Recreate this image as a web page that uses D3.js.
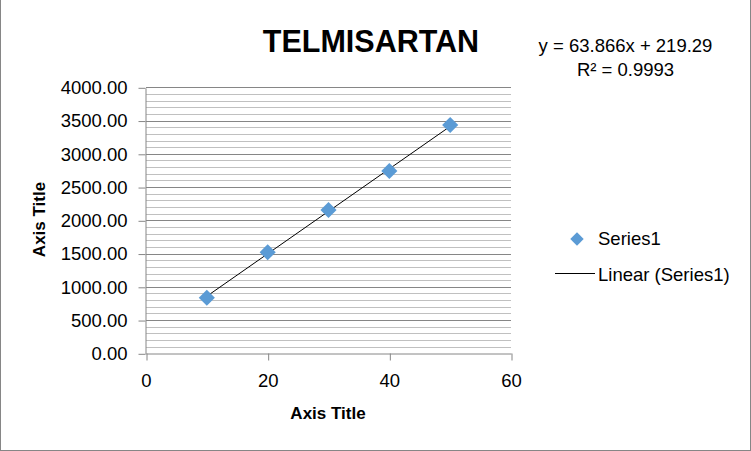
<!DOCTYPE html>
<html lang="en">
<head>
    <meta charset="UTF-8">
    <title>TELMISARTAN</title>
    <script src="https://d3js.org/d3.v7.min.js"></script>
    <style>
        body {
            margin: 0;
            background: #fff;
        }
        svg text {
            font-family: "Liberation Sans", Arial, sans-serif;
            fill: #000;
        }
    </style>
</head>
<body>
    <div id="container"></div>

    <script>
        // data
        const concentration = [10, 20, 30, 40, 50];
        const response = [836, 1519, 2155, 2741, 3433];
        const xTicks = [0, 20, 40, 60];
        const yTicks = [0, 500, 1000, 1500, 2000, 2500, 3000, 3500, 4000];
        const slope = 63.866;
        const intercept = 219.29;
        const equationLabel = 'y = 63.866x + 219.29';
        const r2Label = 'R² = 0.9993';
        const legendLabels = ['Series1', 'Linear (Series1)'];

        const width = 751, height = 451;
        const axisColor = '#868686';
        const markerColor = '#5b9bd5';

        const svg = d3.select('#container').append('svg')
            .attr('width', width)
            .attr('height', height);

        // outer chart border
        svg.append('rect')
            .attr('x', 0.5).attr('y', -0.5)
            .attr('width', 750).attr('height', 451)
            .attr('fill', '#fff')
            .attr('stroke', axisColor);

        // scales
        const x = d3.scaleLinear().domain([0, 60]).range([146, 511]);
        const y = d3.scaleLinear().domain([0, 4000]).range([353.3, 87.3]);

        // minor gridlines every 100
        const minor = d3.range(100, 4000, 100).filter(v => v % 500 !== 0);
        svg.append('g').selectAll('line')
            .data(minor)
            .enter()
            .append('line')
            .attr('x1', x(0)).attr('x2', x(60))
            .attr('y1', d => Math.round(y(d)) + 0.5)
            .attr('y2', d => Math.round(y(d)) + 0.5)
            .attr('stroke', '#c0c0c0');

        // major gridlines
        svg.append('g').selectAll('line')
            .data(yTicks.filter(v => v > 0))
            .enter()
            .append('line')
            .attr('x1', x(0)).attr('x2', x(60))
            .attr('y1', d => Math.round(y(d)) + 0.5)
            .attr('y2', d => Math.round(y(d)) + 0.5)
            .attr('stroke', axisColor);

        // y axis
        const yAxis = svg.append('g')
            .attr('transform', 'translate(' + (Math.round(x(0)) - 0.5) + ',0.5)')
            .call(d3.axisLeft(y).tickValues(yTicks).tickFormat(d3.format('.2f')).tickSize(7).tickSizeOuter(0).tickPadding(11));

        // x axis
        const xAxis = svg.append('g')
            .attr('transform', 'translate(0,' + (Math.round(y(0)) + 0.5) + ')')
            .call(d3.axisBottom(x).tickValues(xTicks).tickSize(7).tickSizeOuter(0).tickPadding(13));

        [yAxis, xAxis].forEach(g => {
            g.select('.domain').attr('stroke', axisColor);
            g.selectAll('.tick line').attr('stroke', axisColor);
            g.selectAll('.tick text')
                .attr('font-size', 18.5)
                .attr('font-family', '"Liberation Sans", Arial, sans-serif')
                .attr('fill', '#000');
        });
        xAxis.selectAll('.tick line').attr('transform', 'translate(0.5,0)');

        // linear trendline
        const trendX = [d3.min(concentration), d3.max(concentration)];
        svg.append('line')
            .attr('x1', x(trendX[0])).attr('y1', y(slope * trendX[0] + intercept))
            .attr('x2', x(trendX[1])).attr('y2', y(slope * trendX[1] + intercept))
            .attr('stroke', '#000')
            .attr('stroke-width', 1);

        // diamond markers
        const diamond = d3.symbol().type(d3.symbolSquare).size(130);
        svg.append('g').selectAll('path')
            .data(concentration)
            .enter()
            .append('path')
            .attr('d', diamond)
            .attr('transform', (d, i) => 'translate(' + x(d) + ',' + y(response[i]) + ') rotate(45)')
            .attr('fill', markerColor);

        // title
        svg.append('text')
            .attr('x', 371)
            .attr('y', 52)
            .attr('text-anchor', 'middle')
            .attr('font-size', 30.5)
            .attr('font-weight', 'bold')
            .text('TELMISARTAN');

        // axis titles
        svg.append('text')
            .attr('x', 328)
            .attr('y', 419)
            .attr('text-anchor', 'middle')
            .attr('font-size', 17)
            .attr('font-weight', 'bold')
            .text('Axis Title');

        svg.append('text')
            .attr('transform', 'translate(45,219.5) rotate(-90)')
            .attr('text-anchor', 'middle')
            .attr('font-size', 17)
            .attr('font-weight', 'bold')
            .text('Axis Title');

        // trendline equation
        svg.append('text')
            .attr('x', 625.5).attr('y', 52)
            .attr('text-anchor', 'middle')
            .attr('font-size', 18.5)
            .text(equationLabel);

        svg.append('text')
            .attr('x', 625.5).attr('y', 76)
            .attr('text-anchor', 'middle')
            .attr('font-size', 18.5)
            .text(r2Label);

        // legend
        const legend = svg.append('g');
        legend.append('path')
            .attr('d', d3.symbol().type(d3.symbolSquare).size(90))
            .attr('transform', 'translate(577,239) rotate(45)')
            .attr('fill', markerColor);
        legend.append('line')
            .attr('x1', 555).attr('x2', 595)
            .attr('y1', 273.5).attr('y2', 273.5)
            .attr('stroke', '#000');
        legend.selectAll('text')
            .data(legendLabels)
            .enter()
            .append('text')
            .attr('x', 598)
            .attr('y', (d, i) => 245 + i * 36)
            .attr('font-size', 18.5)
            .text(d => d);
    </script>
</body>
</html>
